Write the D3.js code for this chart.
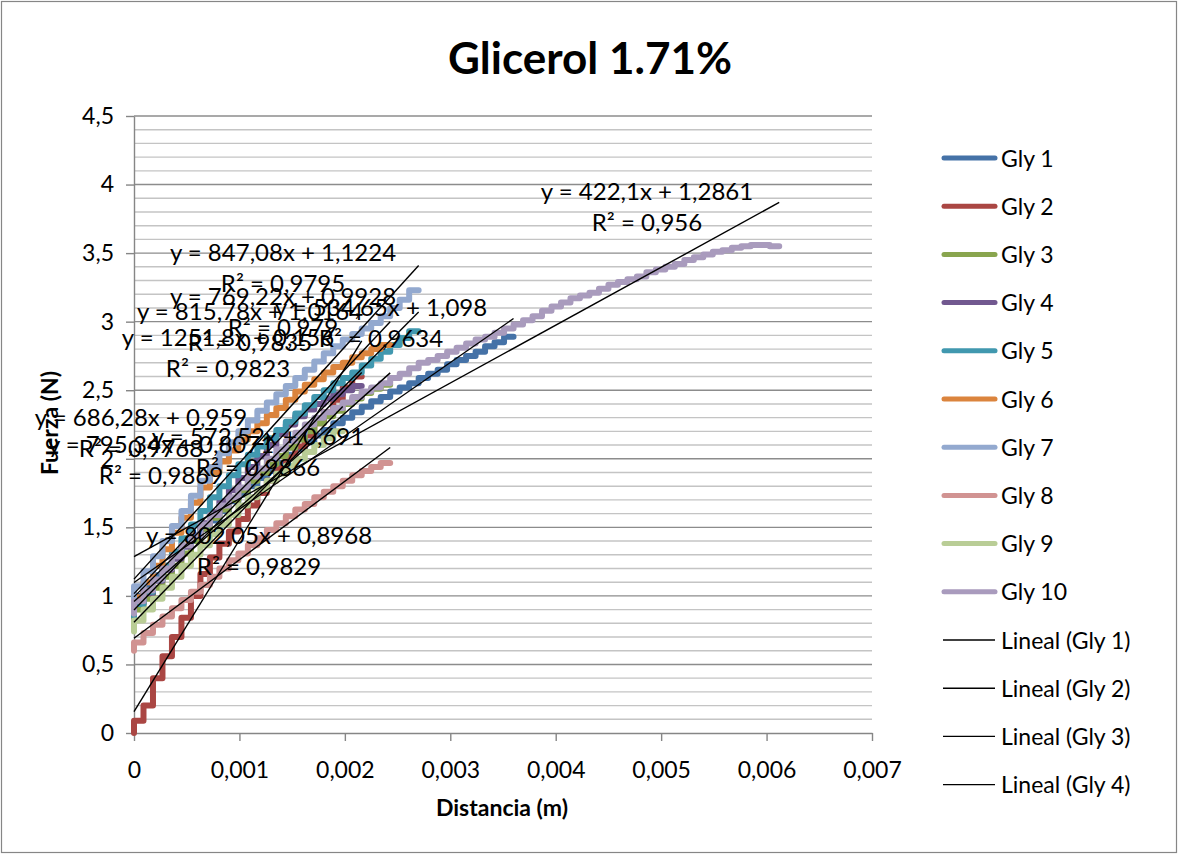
<!DOCTYPE html>
<html>
<head>
<meta charset="utf-8">
<script src="https://cdn.jsdelivr.net/npm/d3@7"></script>
<style>
  body { margin: 0; background: #fff; }
  svg { display: block; }
  text { font-family: Lato, "Open Sans", sans-serif; fill: #000; }
</style>
</head>
<body>
<svg id="chart" width="1180" height="856"></svg>
<script>
// Distance readings (m), shared by every run; each run uses the first N readings
const distancia = [0, 0.00009, 0.00018, 0.00027, 0.00036, 0.00045, 0.00054, 0.00063, 0.00072, 0.00081,
  0.0009, 0.00099, 0.00108, 0.00117, 0.00126, 0.00135, 0.00144, 0.00153, 0.00162, 0.00171,
  0.0018, 0.00189, 0.00198, 0.00207, 0.00216, 0.00225, 0.00234, 0.00243, 0.00252, 0.00261,
  0.0027, 0.00279, 0.00288, 0.00297, 0.00306, 0.00315, 0.00324, 0.00333, 0.00342, 0.00351,
  0.0036, 0.00369, 0.00378, 0.00387, 0.00396, 0.00405, 0.00414, 0.00423, 0.00432, 0.00441,
  0.0045, 0.00459, 0.00468, 0.00477, 0.00486, 0.00495, 0.00504, 0.00513, 0.00522, 0.00531,
  0.0054, 0.00549, 0.00558, 0.00567, 0.00576, 0.00585, 0.00594, 0.00603, 0.00612];

// Force readings (N) for each run
const gly1 = [0.93, 1.00, 1.08, 1.15, 1.22, 1.29, 1.36, 1.43, 1.49, 1.55, 1.62, 1.69, 1.74, 1.80, 1.86,
  1.91, 1.97, 2.03, 2.07, 2.12, 2.17, 2.21, 2.26, 2.30, 2.34, 2.38, 2.42, 2.45, 2.49, 2.52, 2.55,
  2.59, 2.62, 2.65, 2.69, 2.72, 2.75, 2.78, 2.82, 2.85, 2.89];
const gly2 = [0.00, 0.09, 0.20, 0.40, 0.56, 0.70, 0.84, 1.00, 1.16, 1.28, 1.38, 1.47, 1.56, 1.66, 1.75,
  1.84, 1.93, 2.01, 2.09, 2.17, 2.26, 2.34, 2.43, 2.52, 2.60];
const gly3 = [0.82, 0.90, 0.98, 1.06, 1.14, 1.22, 1.31, 1.40, 1.49, 1.57, 1.63, 1.70, 1.77, 1.84, 1.90,
  1.96, 2.02, 2.08, 2.14, 2.20, 2.26, 2.31, 2.35, 2.40, 2.44, 2.48, 2.51, 2.54];
const gly4 = [0.86, 0.94, 1.02, 1.11, 1.19, 1.27, 1.36, 1.44, 1.53, 1.61, 1.69, 1.77, 1.86, 1.94, 2.02,
  2.10, 2.18, 2.25, 2.31, 2.36, 2.40, 2.44, 2.47, 2.50, 2.53];
const gly5 = [0.85, 0.94, 1.03, 1.12, 1.22, 1.32, 1.42, 1.52, 1.62, 1.72, 1.80, 1.88, 1.96, 2.03, 2.09,
  2.15, 2.21, 2.27, 2.33, 2.39, 2.45, 2.50, 2.55, 2.59, 2.63, 2.68, 2.73, 2.78, 2.83, 2.88, 2.93];
const gly6 = [0.88, 0.99, 1.10, 1.22, 1.34, 1.46, 1.57, 1.68, 1.79, 1.90, 1.98, 2.06, 2.14, 2.20, 2.26,
  2.32, 2.37, 2.43, 2.49, 2.54, 2.58, 2.63, 2.67, 2.70, 2.74, 2.77, 2.80, 2.83];
const gly7 = [0.97, 1.07, 1.18, 1.29, 1.40, 1.51, 1.62, 1.73, 1.84, 1.94, 2.04, 2.12, 2.20, 2.28, 2.35,
  2.41, 2.47, 2.53, 2.59, 2.65, 2.71, 2.77, 2.82, 2.87, 2.91, 2.95, 2.99, 3.04, 3.10, 3.16, 3.23];
const gly8 = [0.60, 0.66, 0.73, 0.79, 0.85, 0.91, 0.97, 1.03, 1.08, 1.14, 1.20, 1.26, 1.31, 1.37, 1.42,
  1.48, 1.53, 1.58, 1.63, 1.67, 1.72, 1.76, 1.80, 1.84, 1.88, 1.91, 1.94, 1.97];
const gly9 = [0.74, 0.82, 0.90, 0.98, 1.06, 1.14, 1.22, 1.30, 1.37, 1.45, 1.52, 1.59, 1.66, 1.72, 1.78,
  1.84, 1.89, 1.95, 2.00, 2.05, 2.10, 2.15, 2.20];
const gly10 = [0.87, 0.96, 1.04, 1.12, 1.20, 1.29, 1.37, 1.44, 1.52, 1.59, 1.66, 1.72, 1.79, 1.87, 1.93,
  2.00, 2.07, 2.13, 2.19, 2.25, 2.30, 2.34, 2.37, 2.41, 2.45, 2.49, 2.52, 2.55, 2.59, 2.62, 2.66,
  2.70, 2.72, 2.75, 2.78, 2.81, 2.84, 2.87, 2.89, 2.92, 2.95, 2.98, 3.01, 3.04, 3.08, 3.11, 3.14,
  3.17, 3.19, 3.21, 3.24, 3.27, 3.29, 3.31, 3.33, 3.36, 3.38, 3.40, 3.42, 3.45, 3.47, 3.49, 3.51,
  3.52, 3.54, 3.55, 3.56, 3.56, 3.55];

const nombres = ["Gly 1", "Gly 2", "Gly 3", "Gly 4", "Gly 5", "Gly 6", "Gly 7", "Gly 8", "Gly 9", "Gly 10"];

// Linear trendline coefficients (slope, intercept) and R² for each run
const pendientes = [534.65, 1251.8, 686.28, 802.05, 769.22, 815.78, 847.08, 572.52, 795.34, 422.1];
const ordenadas = [1.098, 0.156, 0.959, 0.8968, 0.9928, 1.0164, 1.1224, 0.691, 0.8071, 1.2861];
const r2 = [0.9634, 0.9823, 0.9768, 0.9829, 0.979, 0.9835, 0.9795, 0.9866, 0.9869, 0.956];

// Axis ticks
const xTicks = [0, 0.001, 0.002, 0.003, 0.004, 0.005, 0.006, 0.007];
const xTickLabels = ["0", "0,001", "0,002", "0,003", "0,004", "0,005", "0,006", "0,007"];
const yTicks = [0, 0.5, 1, 1.5, 2, 2.5, 3, 3.5, 4, 4.5];
const yTickLabels = ["0", "0,5", "1", "1,5", "2", "2,5", "3", "3,5", "4", "4,5"];

// ---- styling / layout ----
const colores = ["#4572A7", "#AA4643", "#89A54E", "#71588F", "#4198AF",
                 "#DB843D", "#93A9CF", "#D19392", "#B9CD96", "#A99BBD"];
const plot = { left: 134, right: 872, top: 116, bottom: 733 };
// Equation box centre (first line) for each trendline label, in px
const etiquetaPos = [[381, 307], [228, 337], [141, 417], [259, 535], [283, 296],
                     [250, 311], [283, 252], [258, 436], [161, 444], [647, 191]];

const fuerzas = [gly1, gly2, gly3, gly4, gly5, gly6, gly7, gly8, gly9, gly10];
const series = nombres.map((n, i) => ({
  nombre: n,
  color: colores[i],
  puntos: fuerzas[i].map((f, k) => [distancia[k], f]),
  m: pendientes[i], b: ordenadas[i], r2: r2[i]
}));

const svg = d3.select("#chart");
const x = d3.scaleLinear().domain([0, 0.007]).range([plot.left, plot.right]);
const y = d3.scaleLinear().domain([0, 4.5]).range([plot.bottom, plot.top]);

// chart area border
svg.append("rect").attr("x", 1.5).attr("y", 1.5).attr("width", 1175).attr("height", 851)
  .attr("fill", "#fff").attr("stroke", "#868686").attr("stroke-width", 1.2);

// minor + major horizontal gridlines
const minor = d3.range(1, 45).map(k => k / 10).filter(v => Math.abs(v * 2 - Math.round(v * 2)) > 1e-6);
svg.append("g").selectAll("line").data(minor).join("line")
  .attr("x1", plot.left).attr("x2", plot.right)
  .attr("y1", d => y(d)).attr("y2", d => y(d))
  .attr("stroke", "#c4c4c4").attr("stroke-width", 1.4);
svg.append("g").selectAll("line").data(yTicks.filter(v => v > 0)).join("line")
  .attr("x1", plot.left).attr("x2", plot.right)
  .attr("y1", d => y(d)).attr("y2", d => y(d))
  .attr("stroke", "#8c8c8c").attr("stroke-width", 1.4);

// axes
const yAxis = d3.axisLeft(y).tickValues(yTicks)
  .tickFormat((d, i) => yTickLabels[i]).tickSize(8).tickSizeOuter(0).tickPadding(12);
const gy = svg.append("g").attr("transform", `translate(${plot.left},0)`).call(yAxis);
const xAxis = d3.axisBottom(x).tickValues(xTicks)
  .tickFormat((d, i) => xTickLabels[i]).tickSize(8).tickSizeOuter(0).tickPadding(37);
const gx = svg.append("g").attr("transform", `translate(0,${plot.bottom})`).call(xAxis);
[gx, gy].forEach(g => {
  g.selectAll("path, line").attr("stroke", "#868686").attr("stroke-width", 1.4);
  g.selectAll("text").style("font-size", "23px").attr("fill", "#000");
});
gx.selectAll("text").attr("dy", 0);

// data series
const linea = d3.line().x(d => x(d[0])).y(d => y(d[1])).curve(d3.curveStepBefore);
svg.append("g").selectAll("path").data(series).join("path")
  .attr("d", d => linea(d.puntos))
  .attr("fill", "none").attr("stroke", d => d.color)
  .attr("stroke-width", 6).attr("stroke-linejoin", "round").attr("stroke-linecap", "round");

// linear trendlines over each run's distance range
svg.append("g").selectAll("line").data(series).join("line")
  .attr("x1", d => x(0)).attr("y1", d => y(d.b))
  .attr("x2", d => x(d.puntos[d.puntos.length - 1][0]))
  .attr("y2", d => y(d.m * d.puntos[d.puntos.length - 1][0] + d.b))
  .attr("stroke", "#000").attr("stroke-width", 1.4);

// trendline equations
const coma = v => String(v).replace(".", ",");
const eq = svg.append("g").style("font-size", "24px").attr("text-anchor", "middle");
series.forEach((s, i) => {
  const [cx, cy] = etiquetaPos[i];
  eq.append("text").attr("x", cx).attr("y", cy + 8.5)
    .text(`y = ${coma(s.m)}x + ${coma(s.b)}`);
  eq.append("text").attr("x", cx).attr("y", cy + 31 + 8.5)
    .text(`R² = ${coma(s.r2)}`);
});

// title and axis titles
svg.append("text").attr("x", 590).attr("y", 74).attr("text-anchor", "middle")
  .style("font-size", "44px").style("font-weight", "bold").text("Glicerol 1.71%");
svg.append("text").attr("x", 502).attr("y", 816).attr("text-anchor", "middle")
  .style("font-size", "23px").style("font-weight", "bold").text("Distancia (m)");
svg.append("text").attr("transform", "translate(58,423) rotate(-90)").attr("text-anchor", "middle")
  .style("font-size", "23px").style("font-weight", "bold").text("Fuerza (N)");

// legend (series first, then the trendline entries that fit)
const leyenda = series.map(s => ({ texto: s.nombre, color: s.color, ancho: 5 }))
  .concat(nombres.slice(0, 4).map(n => ({ texto: `Lineal (${n})`, color: "#000", ancho: 1.4 })));
const lg = svg.append("g").selectAll("g").data(leyenda).join("g")
  .attr("transform", (d, i) => `translate(0,${158 + i * 48.2})`);
lg.append("line").attr("x1", d => d.ancho > 2 ? 944 : 943).attr("x2", 995)
  .attr("stroke", d => d.color).attr("stroke-width", d => d.ancho).attr("stroke-linecap", d => d.ancho > 2 ? "round" : "butt");
lg.append("text").attr("x", 1001).attr("y", 8.5).style("font-size", "23px").text(d => d.texto);
</script>
</body>
</html>
